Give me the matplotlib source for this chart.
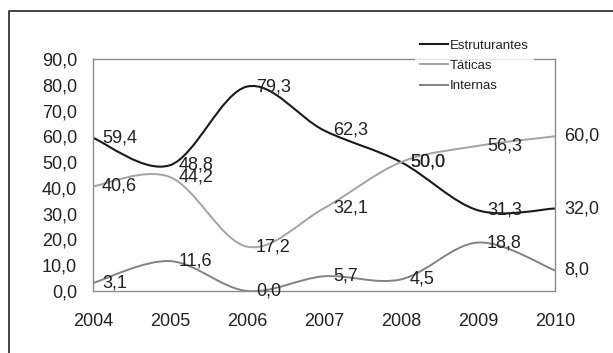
import numpy as np
import matplotlib.pyplot as plt
from matplotlib.path import Path
from matplotlib.patches import PathPatch
from matplotlib.lines import Line2D

plt.rcParams['font.family'] = ['Liberation Sans', 'DejaVu Sans']

years = [2004, 2005, 2006, 2007, 2008, 2009, 2010]
estruturantes = [59.4, 48.8, 79.3, 62.3, 50.0, 31.3, 32.0]
taticas = [40.6, 44.2, 17.2, 32.1, 50.0, 56.3, 60.0]
internas = [3.1, 11.6, 0.0, 5.7, 4.5, 18.8, 8.0]
yticks = [0, 10, 20, 30, 40, 50, 60, 70, 80, 90]

series = [
    ('Estruturantes', estruturantes, '#1a1a1a', 1.5),
    ('Táticas', taticas, '#a3a3a3', 1.4),
    ('Internas', internas, '#828282', 1.4),
]


def smooth_path(x, y):
    # excel-like smoothed line: bezier segments through the data points
    n = len(x)
    verts = [(x[0], y[0])]
    codes = [Path.MOVETO]
    for i in range(n - 1):
        xa, ya = (x[i - 1], y[i - 1]) if i > 0 else (x[i], y[i])
        xb, yb = (x[i + 2], y[i + 2]) if i + 2 < n else (x[i + 1], y[i + 1])
        c1 = (x[i] + (x[i + 1] - xa) / 6, y[i] + (y[i + 1] - ya) / 6)
        c2 = (x[i + 1] - (xb - x[i]) / 6, y[i + 1] - (yb - y[i]) / 6)
        verts += [c1, c2, (x[i + 1], y[i + 1])]
        codes += [Path.CURVE4] * 3
    return Path(verts, codes)


W, H = 613, 353
fig = plt.figure(figsize=(W / 100, H / 100), dpi=100)
ax = fig.add_axes([93 / W, (H - 291) / H, 462 / W, 232 / H])

handles = []
for name, vals, color, lw in series:
    patch = PathPatch(smooth_path(years, vals), facecolor='none',
                      edgecolor=color, lw=lw, capstyle='round')
    ax.add_patch(patch)
    handles.append(Line2D([0], [0], color=color, lw=lw, label=name))
    for xv, yv in zip(years, vals):
        ax.annotate(f'{yv:.1f}'.replace('.', ','), (xv, yv),
                    xytext=(9, 0), textcoords='offset pixels',
                    ha='left', va='center', fontsize=13, color='#222222',
                    annotation_clip=False)

ax.set_xlim(years[0], years[-1])
ax.set_ylim(0, 90)
ax.set_xticks(years)
ax.set_xticklabels([str(y) for y in years])
ax.set_yticks(yticks)
ax.set_yticklabels([f'{v:.1f}'.replace('.', ',') for v in yticks])
ax.tick_params(axis='y', length=0, pad=11.5, labelsize=13, colors='#222222')
ax.tick_params(axis='x', length=0, pad=16, labelsize=13, colors='#222222')
for s in ax.spines.values():
    s.set_color('#8c8c8c')
    s.set_linewidth(1.0)

leg = fig.legend(handles=handles, loc='upper left',
                 bbox_to_anchor=(415 / W, 1 - 34 / H), borderaxespad=0,
                 fontsize=9.5, frameon=True, fancybox=False,
                 handlelength=2.1, handletextpad=0.15, labelspacing=0.62,
                 borderpad=0.4)
leg.get_frame().set_facecolor('white')
leg.get_frame().set_edgecolor('none')
for t in leg.get_texts():
    t.set_color('#222222')

# outer border (cropped frame)
fig.add_artist(Line2D([9 / W, 9 / W, 1], [0, 1 - 11 / H, 1 - 11 / H],
                      transform=fig.transFigure, color='#222222', lw=1.2))

fig.savefig('out.png', dpi=100)
